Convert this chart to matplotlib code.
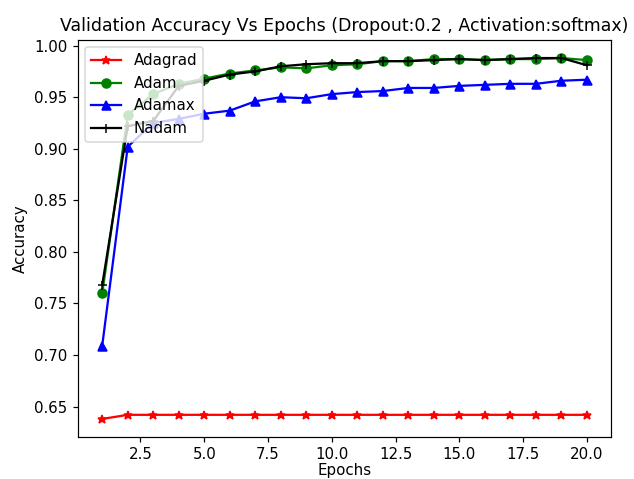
import numpy as np
import matplotlib
matplotlib.use('Agg')
import matplotlib.pyplot as plt

# epochs
epochs = np.arange(1, 21)

# validation accuracy per optimizer
adagrad = [0.638, 0.642, 0.642, 0.642, 0.642, 0.642, 0.642, 0.642, 0.642, 0.642,
           0.642, 0.642, 0.642, 0.642, 0.642, 0.642, 0.642, 0.642, 0.642, 0.642]
adam = [0.760, 0.933, 0.953, 0.963, 0.968, 0.973, 0.976, 0.979, 0.978, 0.981,
        0.982, 0.985, 0.985, 0.987, 0.987, 0.986, 0.987, 0.987, 0.988, 0.986]
adamax = [0.709, 0.902, 0.925, 0.929, 0.934, 0.937, 0.946, 0.950, 0.949, 0.953,
          0.955, 0.956, 0.959, 0.959, 0.961, 0.962, 0.963, 0.963, 0.966, 0.967]
nadam = [0.768, 0.922, 0.927, 0.961, 0.966, 0.972, 0.975, 0.980, 0.982, 0.983,
         0.983, 0.985, 0.985, 0.986, 0.987, 0.986, 0.987, 0.988, 0.988, 0.981]

# image looks rendered a bit bigger than the default 100 dpi
dpi = 108
fig = plt.figure(figsize=(634 / dpi, 479 / dpi), dpi=dpi)
fig.subplots_adjust(left=0.123, right=0.964, top=0.9165, bottom=0.0877)
ax = fig.add_subplot(111)

ax.plot(epochs, adagrad, 'r-*', label='Adagrad')
ax.plot(epochs, adam, 'g-o', label='Adam')
ax.plot(epochs, adamax, 'b-^', label='Adamax')
ax.plot(epochs, nadam, 'k-+', label='Nadam')

# title a hair smaller so the closing bracket stays inside the image
ax.set_title('Validation Accuracy Vs Epochs (Dropout:0.2 , Activation:softmax)', fontsize=11.6)
ax.set_xlabel('Epochs', labelpad=0.5)
ax.set_ylabel('Accuracy')
ax.legend(loc='upper left')

fig.savefig('out.png', dpi=dpi)
